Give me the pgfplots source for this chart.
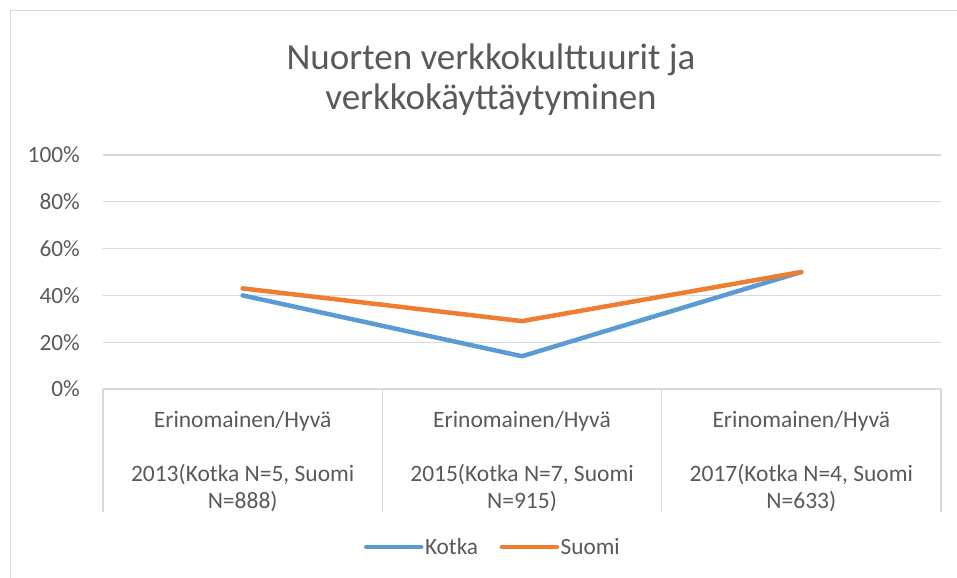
\documentclass[border=0pt]{standalone}
\usepackage{fontspec}
\setmainfont{Carlito}
\usepackage{pgfplots}
\pgfplotsset{compat=1.18}
\definecolor{kotka}{HTML}{5B9BD5}
\definecolor{suomi}{HTML}{ED7D31}
\definecolor{txt}{HTML}{595959}
\definecolor{gridc}{HTML}{D9D9D9}
\begin{document}
\begin{tikzpicture}
\useasboundingbox (0,0) rectangle (957bp,578bp);
\draw[gridc, line width=1.5bp] (10.5bp,0bp) -- (10.5bp,567.5bp) -- (957bp,567.5bp);
\node[anchor=base, text=txt, font=\fontsize{37bp}{40bp}\selectfont] at (491bp,508bp) {Nuorten verkkokulttuurit ja};
\node[anchor=base, text=txt, font=\fontsize{37bp}{40bp}\selectfont] at (491bp,468bp) {verkkokäyttäytyminen};
\begin{axis}[
  at={(103bp,189bp)}, anchor=south west,
  scale only axis, width=838bp, height=234bp,
  xmin=-0.5, xmax=2.5, ymin=0, ymax=100,
  ytick={0,20,40,60,80,100},
  yticklabels={0\%,20\%,40\%,60\%,80\%,100\%},
  xtick={0,1,2},
  xticklabels={
    {Erinomainen/Hyvä\\[27bp]2013(Kotka N=5, Suomi\\N=888)},
    {Erinomainen/Hyvä\\[27bp]2015(Kotka N=7, Suomi\\N=915)},
    {Erinomainen/Hyvä\\[27bp]2017(Kotka N=4, Suomi\\N=633)}},
  ymajorgrids,
  grid style={draw=gridc, line width=1.3bp},
  axis line style={draw=none},
  major tick length=0pt,
  tick style={draw=none},
  clip=false,
  yticklabel style={font=\fontsize{23.3bp}{27bp}\selectfont, text=txt, anchor=east, inner sep=0pt, xshift=-23bp},
  xticklabel style={font=\fontsize{23.5bp}{27bp}\selectfont, text=txt, align=center, anchor=north, inner sep=0pt, yshift=-22bp},
  legend style={draw=none, at={(0.465,-0.675)}, anchor=center, legend columns=2,
    font=\fontsize{23.3bp}{27bp}\selectfont, text=txt,
    /tikz/every even column/.append style={column sep=20bp},
    nodes={inner sep=1.5bp}},
  legend image code/.code={\draw[#1] (0bp,0bp) -- (55bp,0bp);},
]
\addplot[kotka, line width=4.5bp, line cap=round, line join=round] coordinates {(0,40) (1,14) (2,50)};
\addlegendentry{Kotka}
\addplot[suomi, line width=4.5bp, line cap=round, line join=round] coordinates {(0,43) (1,29) (2,50)};
\addlegendentry{Suomi}
\foreach \xx in {-0.5,0.5,1.5,2.5} {
  \edef\tmp{\noexpand\draw[gridc, line width=1.3bp] (axis cs:\xx,0) -- ([yshift=-123bp]axis cs:\xx,0);}
  \tmp
}
\end{axis}
\end{tikzpicture}
\end{document}
